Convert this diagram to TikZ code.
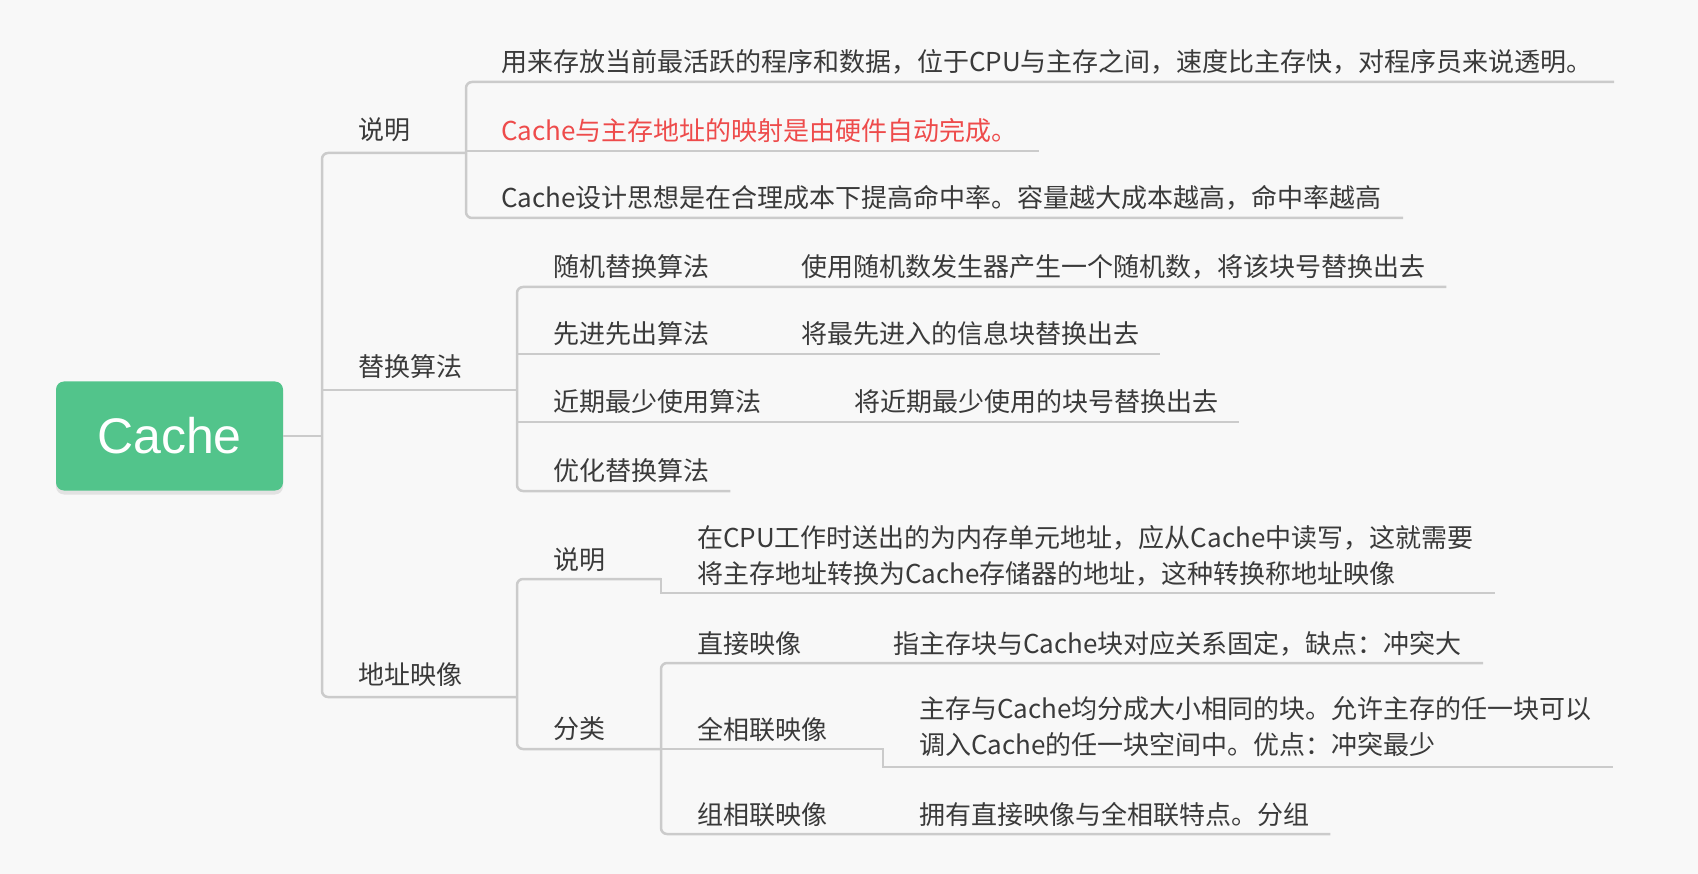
\documentclass[tikz,border=0pt]{standalone}
\usepackage{fontspec}
\setmainfont{Noto Sans CJK SC}
\newfontfamily\rootfont{Liberation Sans}
\usepackage{xcolor}
\usetikzlibrary{shadows}

\definecolor{bgcol}{HTML}{F8F8F8}
\definecolor{linecol}{HTML}{CBCBCB}
\definecolor{txtcol}{HTML}{3A3A3A}
\definecolor{redcol}{HTML}{EE4B4B}
\definecolor{rootcol}{HTML}{52C48B}

\tikzset{
  rootbox/.style={fill=rootcol, rounded corners=8pt, minimum width=227pt, minimum height=109pt,
    text=white, font=\rootfont\fontsize{50}{60}\selectfont,
    drop shadow={shadow xshift=0pt, shadow yshift=-4pt, opacity=0.18}},
  topic/.style={anchor=base west, inner sep=0pt, text=txtcol, font=\fontsize{26}{36}\selectfont},
  link/.style={draw=linecol, line width=2.5pt, rounded corners=6pt}
}

\begin{document}
\begin{tikzpicture}[x=1pt,y=-1pt]
 \fill[bgcol] (0,0) rectangle (1698,874);
 \useasboundingbox (0,0) rectangle (1698,874);

 \node[rootbox] (cache) at (169.5,436) {Cache};

 % first level
 \node[topic] (sm) at (358,140) {说明};
 \node[topic] (th) at (358,377) {替换算法};
 \node[topic] (dz) at (358,684) {地址映像};

 % 说明
 \node[topic] (sm1) at (501,72) {用来存放当前最活跃的程序和数据，位于CPU与主存之间，速度比主存快，对程序员来说透明。};
 \node[topic, text=redcol] (sm2) at (501,141) {Cache与主存地址的映射是由硬件自动完成。};
 \node[topic] (sm3) at (501,208) {Cache设计思想是在合理成本下提高命中率。容量越大成本越高，命中率越高};

 % 替换算法
 \node[topic] (th1) at (553,277) {随机替换算法};
 \node[topic] (th1d) at (801,277) {使用随机数发生器产生一个随机数，将该块号替换出去};
 \node[topic] (th2) at (553,344) {先进先出算法};
 \node[topic] (th2d) at (801,344) {将最先进入的信息块替换出去};
 \node[topic] (th3) at (553,412) {近期最少使用算法};
 \node[topic] (th3d) at (854,412) {将近期最少使用的块号替换出去};
 \node[topic] (th4) at (553,481) {优化替换算法};

 % 地址映像
 \node[topic] (dz1) at (553,569) {说明};
 \node[topic, align=left] (dz1d) at (697,583) {在CPU工作时送出的为内存单元地址，应从Cache中读写，这就需要\\将主存地址转换为Cache存储器的地址，这种转换称地址映像};
 \node[topic] (dz2) at (553,738) {分类};
 \node[topic] (fl1) at (697,653) {直接映像};
 \node[topic] (fl1d) at (893,653) {指主存块与Cache块对应关系固定，缺点：冲突大};
 \node[topic] (fl2) at (697,739) {全相联映像};
 \node[topic, align=left] (fl2d) at (919,754) {主存与Cache均分成大小相同的块。允许主存的任一块可以\\调入Cache的任一块空间中。优点：冲突最少};
 \node[topic] (fl3) at (697,824) {组相联映像};
 \node[topic] (fl3d) at (919,824) {拥有直接映像与全相联特点。分组};

 % connectors
 \draw[link] (cache.east) -- (322,436);
 \draw[link] (466,153) -| (322,697) -- (517,697);
 \draw[link] (322,390) -- (517,390);

 \draw[link] ([xshift=21pt]sm1.east |- 0,82) -| (466,218) -- ([xshift=21pt]sm3.east |- 0,218);
 \draw[link] (466,151) -- ([xshift=21pt]sm2.east |- 0,151);

 \draw[link] ([xshift=21pt]th1d.east |- 0,287) -| (517,491) -- ([xshift=21pt]th4.east |- 0,491);
 \draw[link] (517,354) -- ([xshift=21pt]th2d.east |- 0,354);
 \draw[link] (517,422) -- ([xshift=21pt]th3d.east |- 0,422);

 \draw[link] (661,579) -| (517,749) -- (661,749);
 \draw[link] ([xshift=21pt]fl1d.east |- 0,663) -| (661,834) -- ([xshift=21pt]fl3d.east |- 0,834);
 \draw[link, sharp corners] (640,579) -- (661,579) -- (661,593) -- ([xshift=21pt]dz1d.east |- 0,593);
 \draw[link, sharp corners] (640,749) -- (883,749) -- (883,767) -- ([xshift=21pt]fl2d.east |- 0,767);
\end{tikzpicture}
\end{document}
